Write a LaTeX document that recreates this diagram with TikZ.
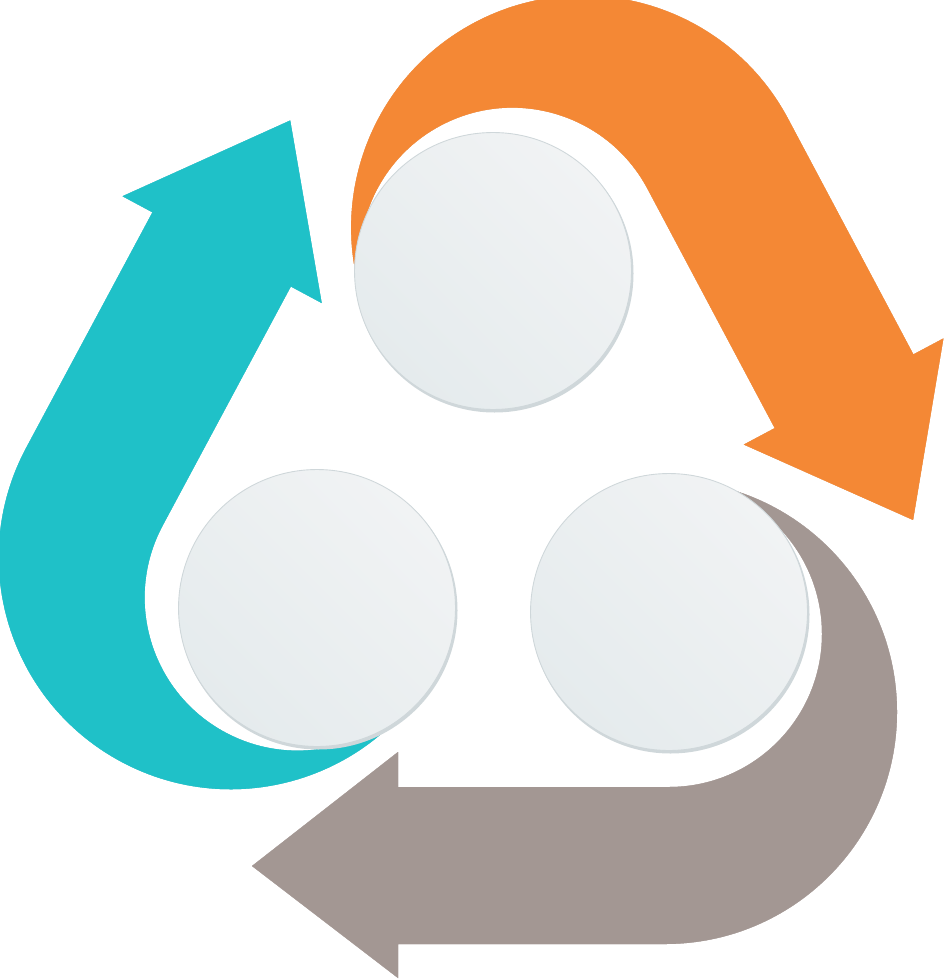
\documentclass[tikz,border=0pt]{standalone}
\usetikzlibrary{calc}
\definecolor{orangeA}{HTML}{F48835}
\definecolor{orangeD}{HTML}{B65A1E}
\definecolor{orangeL}{HTML}{FFC590}
\definecolor{tealA}{HTML}{1FC1C8}
\definecolor{tealD}{HTML}{0E90A8}
\definecolor{tealL}{HTML}{80E0E3}
\definecolor{grayA}{HTML}{A39793}
\definecolor{grayD}{HTML}{7D716E}
\definecolor{grayL}{HTML}{D8D0CD}
\definecolor{discA}{HTML}{F1F3F4}
\definecolor{discB}{HTML}{E5EBED}
\definecolor{discR}{HTML}{CFD7DA}
% one bent arrow, drawn around its disc centre, pointing left
\newcommand{\bandpath}{(0,175) arc[start angle=90,end angle=-90,radius=153]
  -- (-4,-132) arc[start angle=-90,end angle=90,radius=232]
  -- (-271,332) -- (-271,366) -- (-417,254) -- (-271,140) -- (-271,175) -- cycle}
% #1 centre, #2 rotation, #3 colour prefix
\newcommand{\bentarrow}[3]{%
  \fill[#3D,shift={(-2,2.5)},shift={#1},rotate=#2] \bandpath;
  \fill[#3L,shift={(2,-2.5)},shift={#1},rotate=#2] \bandpath;
  \fill[#3A,shift={#1},rotate=#2] \bandpath;}
\tikzset{disc/.style={circle,minimum size=5.54cm,inner sep=0pt,draw=discR,line width=0.5pt,
    left color=discA,right color=discB,shading angle=-45}}
\begin{document}
\begin{tikzpicture}[x=0.02cm,y=-0.02cm]
\useasboundingbox (0,0) rectangle (946,980);
\coordinate (top) at (493,271);
\coordinate (left) at (317,608);
\coordinate (right) at (669,612);
\bentarrow{(right)}{0}{gray}
\bentarrow{(top)}{118}{orange}
\bentarrow{(left)}{-118.2}{teal}
\foreach \c in {top,left,right}
  \fill[discR] ([shift={(1.5,2.5)}]\c) circle[radius=139];
\node[disc] (topdisc) at (top) {};
\node[disc] (leftdisc) at (left) {};
\node[disc] (rightdisc) at (right) {};
\end{tikzpicture}
\end{document}
